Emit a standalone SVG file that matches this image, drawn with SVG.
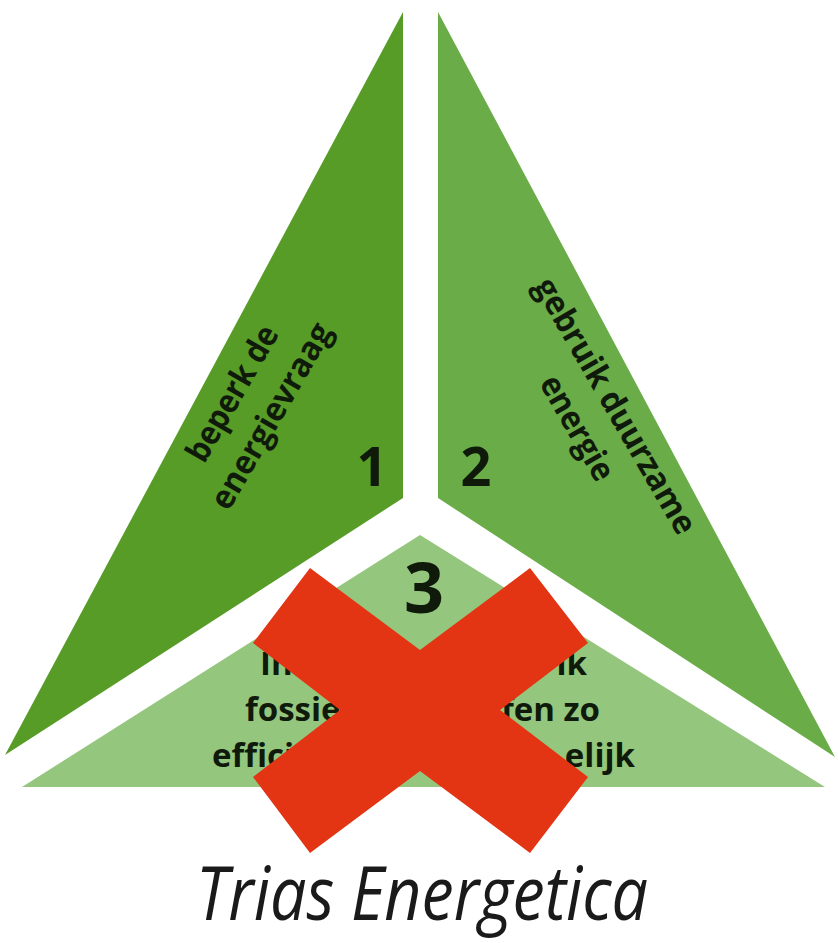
<svg xmlns="http://www.w3.org/2000/svg" width="838" height="943" viewBox="0 0 838 943">
<style>
.lbl{font-family:"Open Sans","Noto Sans","Liberation Sans",sans-serif;font-weight:700;font-size:33px;fill:#101a0b}
.num{font-family:"Open Sans","Noto Sans","Liberation Sans",sans-serif;font-weight:700;fill:#101a0b;text-anchor:middle}
.mid{text-anchor:middle}
.end{text-anchor:end}
.title{font-family:"Open Sans","Noto Sans","Liberation Sans",sans-serif;font-style:italic;font-weight:400;font-size:75px;fill:#1a1a1a}
</style>
<rect width="838" height="943" fill="#ffffff"/>
<g id="panel1">
  <polygon points="403,12 403,498 5,755" fill="#569c26"/>
  <g transform="translate(254,406) rotate(-60)">
    <text class="lbl mid" x="0" y="-14" textLength="151" lengthAdjust="spacingAndGlyphs">beperk de</text>
    <text class="lbl mid" x="0" y="31" textLength="209" lengthAdjust="spacingAndGlyphs">energievraag</text>
  </g>
  <text class="num" x="372" y="486" font-size="54">1</text>
</g>
<g id="panel2">
  <polygon points="438,12 438,498 835,757" fill="#6aac48"/>
  <g transform="translate(594.5,418) rotate(60)">
    <text class="lbl mid" x="0" y="-13" textLength="290" lengthAdjust="spacingAndGlyphs">gebruik duurzame</text>
    <text class="lbl mid" x="0" y="31" textLength="116" lengthAdjust="spacingAndGlyphs">energie</text>
  </g>
  <text class="num" x="476" y="486" font-size="54">2</text>
</g>
<g id="panel3">
  <polygon points="420,535 825,787 22,787" fill="#94c67d"/>
  <text class="num" x="424" y="613" font-size="70" font-weight="600">3</text>
  <text class="lbl" x="260" y="675">In</text>
  <text class="lbl end" x="587" y="675">ik</text>
  <text class="lbl" x="245" y="721">fossie</text>
  <text class="lbl end" x="600" y="721">ffen zo</text>
  <text class="lbl" x="212" y="767">effici</text>
  <text class="lbl end" x="635" y="767">elijk</text>
</g>
<g id="connectors"/>
<g id="cross">
  <polygon points="310,568 420,650 530,568 588,643 500,710 588,777 530,853 420,771 310,853 253,777 340,710 253,643" fill="#e33414"/>
</g>
<g id="title">
  <text class="title" x="196" y="920" textLength="452" lengthAdjust="spacingAndGlyphs">Trias Energetica</text>
</g>
</svg>
